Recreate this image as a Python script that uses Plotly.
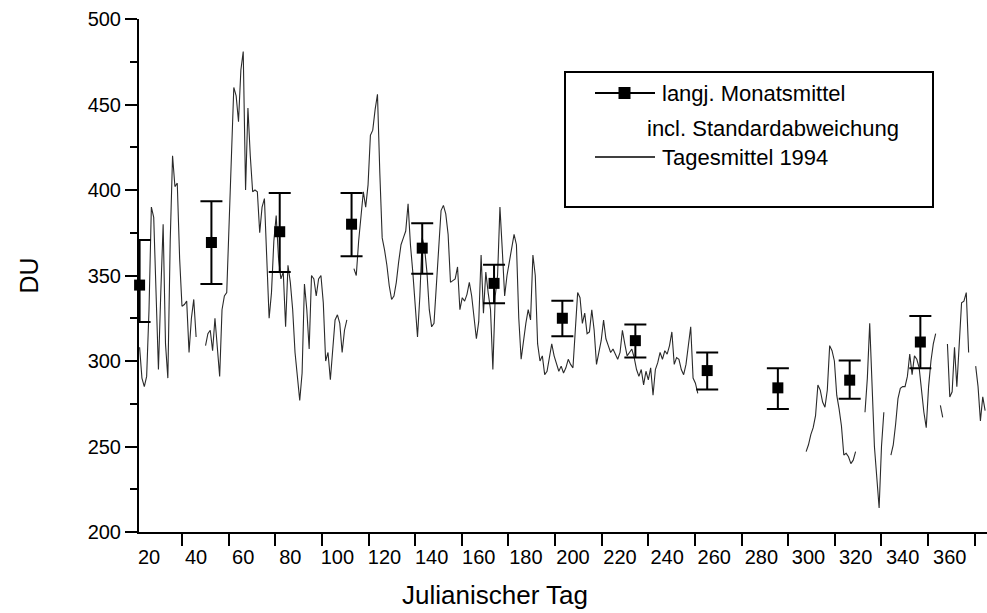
import plotly.graph_objects as go

# ---------------- data ----------------
month_days = [16, 46.5, 75.5, 106, 136, 166.5, 195.5, 226.5, 257, 287, 317.5, 347.5]
month_mean = [344.4, 369.3, 375.6, 380.0, 366.0, 345.4, 325.0, 311.9, 294.4, 284.3, 288.8, 311.1]
month_upper = [370.7, 393.4, 398.3, 398.3, 380.5, 356.3, 335.2, 321.4, 305.0, 295.7, 300.3, 326.3]
month_lower = [322.8, 345.0, 352.0, 361.2, 351.0, 333.8, 314.5, 302.0, 283.3, 272.0, 277.9, 295.7]

first_day = 16
daily_values = [
    308, 290, 285, 291, 330, 390, 384, 345, 295, 340,
    380, 310, 290, 370, 420, 402, 404, 360, 332, 333,
    335, 305, 325, 336, 314, None, None, None, 309, 316,
    318, 306, 325, 310, 291, 330, 338, 340, 380, 425,
    460, 455, 440, 470, 481, 400, 448, 420, 399, 400,
    399, 375, 390, 395, 358, 325, 340, 370, 385, 360,
    348, 352, 320, 356, 346, 330, 305, 290, 277, 293,
    345, 330, 307, 350, 348, 338, 348, 350, 334, 300,
    305, 289, 305, 324, 327, 322, 305, 318, 324, None,
    None, 354, 350, 370, 384, 399, 390, 403, 432, 435,
    447, 456, 410, 372, 365, 356, 344, 336, 338, 346,
    358, 368, 372, 376, 392, 368, 352, 335, 314, 338,
    372, 366, 352, 330, 320, 322, 345, 368, 388, 391,
    386, 374, 346, 347, 348, 355, 330, 337, 335, 339,
    346, 338, 325, 313, 323, 362, 328, 352, 340, 330,
    295, 338, 350, 390, 365, 338, 350, 358, 364, 374,
    368, 325, 301, 312, 322, 330, 324, 362, 350, 310,
    300, 303, 292, 294, 302, 310, 303, 298, 294, 297,
    293, 296, 301, 298, 296, 318, 340, 337, 322, 328,
    316, 317, 330, 318, 298, 305, 312, 324, 313, 309,
    305, 307, 304, 301, 305, 318, 310, 303, 305, 307,
    302, 295, 291, 295, 286, 294, 289, 296, 280, 295,
    299, 305, 301, 306, 304, 309, 317, 298, 302, 301,
    295, 292, 298, 308, 320, 290, 287, 281, None, None,
    None, None, None, None, None, None, None, None, None, None,
    None, None, None, None, None, None, None, None, None, None,
    None, None, None, None, None, None, None, None, None, None,
    None, None, None, None, None, None, None, None, None, None,
    None, None, None, 247, 251, 257, 261, 268, 286, 283,
    276, 273, 283, 309, 306, 300, 280, 272, 262, 245,
    246, 244, 240, 242, 247, None, None, None, 270, 290,
    322, 285, 250, 232, 214, 250, 270, None, None, 245,
    251, 263, 278, 284, 285, 285, 291, 304, 292, 303,
    301, 296, 282, 270, 261, 285, 300, 310, 316, None,
    274, 267, None, 310, 279, 282, 308, 285, 312, 334,
    335, 340, 305, None, None, 297, 285, 265, 279, 271,
]
daily_days = list(range(first_day, first_day + len(daily_values)))

x_tick_labels = list(range(20, 361, 20))
y_tick_labels = list(range(200, 501, 50))

legend_monthly = ["langj. Monatsmittel", "incl. Standardabweichung"]
legend_daily = "Tagesmittel 1994"

# ---------------- figure ----------------
W, H = 987, 613
L, R, T, B = 139, 0, 19, 81
PW, PH = W - L - R, H - T - B
FONT = "Arial, Liberation Sans, sans-serif"
X_RANGE = [15.75, 375.8]


def px(xp):
    return (xp - L) / PW


def py(yp):
    return (H - B - yp) / PH


fig = go.Figure()

fig.add_trace(go.Scatter(
    x=daily_days, y=daily_values, mode="lines",
    line=dict(color="#2a2a2a", width=1.1),
    connectgaps=False, showlegend=False, name=legend_daily,
))

err_plus = [u - m for u, m in zip(month_upper, month_mean)]
err_minus = [m - l for m, l in zip(month_mean, month_lower)]
fig.add_trace(go.Scatter(
    x=month_days, y=month_mean, mode="markers", xaxis="x2", yaxis="y",
    marker=dict(symbol="square", size=11, color="black"),
    error_y=dict(type="data", array=err_plus, arrayminus=err_minus,
                 color="black", thickness=2, width=11),
    cliponaxis=False, showlegend=False, name=legend_monthly[0],
))

# tick marks of the (scanned) original sit offset from their labels
tick_marks_x = [34 + 19.8 * k for k in range(18)]

fig.update_layout(
    xaxis=dict(
        range=X_RANGE,
        tickmode="array", tickvals=tick_marks_x, showticklabels=False,
        ticks="outside", ticklen=12, tickwidth=2, tickcolor="black",
        showline=True, linecolor="black", linewidth=2,
        showgrid=False, zeroline=False,
    ),
    xaxis2=dict(
        overlaying="x", side="bottom", anchor="y",
        range=X_RANGE,
        tickmode="array", tickvals=x_tick_labels,
        ticktext=[str(v) for v in x_tick_labels],
        ticks="outside", ticklen=7, tickcolor="rgba(0,0,0,0)",
        showline=False, showgrid=False, zeroline=False,
        tickfont=dict(family=FONT, size=20, color="black"),
    ),
)

fig.update_yaxes(
    range=[200, 500],
    tickmode="array", tickvals=y_tick_labels,
    ticks="outside", ticklen=12, tickwidth=2, tickcolor="black",
    showline=True, linecolor="black", linewidth=2,
    showgrid=False, zeroline=False,
    tickfont=dict(family=FONT, size=20, color="black"),
    minor=dict(tick0=200, dtick=25, ticks="outside", ticklen=7,
               tickwidth=2, tickcolor="black", showgrid=False),
    title=dict(text="DU", font=dict(family=FONT, size=25, color="black"),
               standoff=42),
)

shapes = [
    dict(type="rect", xref="paper", yref="paper",
         x0=px(565), x1=px(933), y0=py(207), y1=py(72),
         line=dict(color="black", width=2), fillcolor="white", layer="above"),
    dict(type="line", xref="paper", yref="paper",
         x0=px(595), x1=px(655), y0=py(93), y1=py(93),
         line=dict(color="black", width=2), layer="above"),
    dict(type="rect", xref="paper", yref="paper",
         x0=px(618.5), x1=px(630.5), y0=py(99), y1=py(87),
         line=dict(color="black", width=0), fillcolor="black", layer="above"),
    dict(type="line", xref="paper", yref="paper",
         x0=px(595), x1=px(655), y0=py(157), y1=py(157),
         line=dict(color="black", width=1.5), layer="above"),
]

annotations = [
    dict(text=legend_monthly[0], xref="paper", yref="paper",
         x=px(660), y=py(93), xanchor="left", yanchor="middle",
         showarrow=False, font=dict(family=FONT, size=22, color="black")),
    dict(text=legend_monthly[1], xref="paper", yref="paper",
         x=px(645), y=py(128), xanchor="left", yanchor="middle",
         showarrow=False, font=dict(family=FONT, size=22, color="black")),
    dict(text=legend_daily, xref="paper", yref="paper",
         x=px(660), y=py(157), xanchor="left", yanchor="middle",
         showarrow=False, font=dict(family=FONT, size=22, color="black")),
    dict(text="Julianischer Tag", xref="paper", yref="paper",
         x=px(495), y=py(595), xanchor="center", yanchor="middle",
         showarrow=False, font=dict(family=FONT, size=26, color="black")),
]

fig.update_layout(
    width=W, height=H,
    margin=dict(l=L, r=R, t=T, b=B, pad=0),
    paper_bgcolor="white", plot_bgcolor="white",
    shapes=shapes, annotations=annotations,
    showlegend=False,
    font=dict(family=FONT, color="black"),
)

fig.write_html("out.html")
